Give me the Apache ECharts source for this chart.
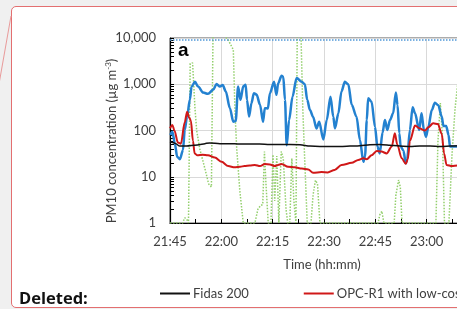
<!DOCTYPE html>
<html>
<head>
<meta charset="utf-8">
<script src="https://cdn.jsdelivr.net/npm/echarts@6/dist/echarts.min.js"></script>
<style>
html, body { margin: 0; padding: 0; background: #f0f0f0; overflow: hidden; }
#box { position: absolute; left: 11px; top: 6px; width: 800px; height: 300px; background: #fff;
       border: 1.3px solid #e36f70; border-radius: 5px; }
#chart { position: absolute; left: 0; top: 0; width: 700px; height: 309px; }
</style>
</head>
<body>
<div id="box"></div>
<div id="chart"></div>
<script>
// minutes after 21:45, PM10 in ug/m3
var fidas = [[0, 57], [1.7, 52], [2.9, 46], [4.3, 46], [7.2, 48], [10.2, 52], [11.6, 54], [14.6, 52], [17.5, 52],
    [20.4, 51], [23.3, 51], [26.2, 51], [29.1, 50], [32.1, 50], [35, 50], [38, 49], [40.9, 46], [43.8, 45],
    [46.7, 45], [49.6, 45], [52.6, 46], [55.5, 47], [58.4, 49], [61.3, 50], [64.3, 48], [67.2, 46], [70.1, 45],
    [73, 46], [76, 46], [78.9, 45], [81.8, 46], [84.7, 47], [90, 47]];

var lowCost = [[0, 112], [0.7, 132], [1.3, 100], [2.3, 55], [3.2, 52], [4.3, 150], [5.0, 255], [5.6, 190],
    [6.1, 165], [6.7, 60], [7.2, 32], [8.0, 29], [9.5, 30], [11.1, 29], [13.1, 26], [15.1, 21], [17.0, 17],
    [18.9, 16], [20.5, 16.5], [21.8, 17], [23.3, 17.5], [24.8, 18], [26.3, 17], [27.7, 18.8], [29.2, 18.5],
    [30.6, 17], [31.6, 18], [32.6, 18.8], [34.5, 16.4], [36.5, 16], [38.5, 15], [40.4, 14.4], [41.8, 12.2],
    [44.3, 12.6], [46.1, 12.4], [48.1, 14], [50.1, 17.9], [53.1, 20], [55.0, 23], [56.5, 25], [57.5, 24],
    [58.9, 29], [60.4, 36], [61.8, 35], [63.3, 32], [64.8, 45], [65.7, 87], [66.4, 50], [67.7, 25], [68.9, 19],
    [69.5, 24], [70.1, 60], [71.6, 128], [73, 110], [74.5, 100], [75.5, 118], [76.9, 143], [78.3, 138],
    [79.4, 85], [80.1, 32], [80.8, 18], [82.4, 17], [84, 17.5], [87, 17], [90, 17]];

var opcR1 = [[0.1, 80], [0.7, 94], [1.4, 53], [2.1, 27], [2.9, 24], [3.8, 38], [4.3, 103], [5.0, 200], [5.8, 460],
    [6.3, 890], [7.3, 1130], [8.2, 890], [9.7, 660], [11.1, 620], [12.6, 760], [13.6, 1010], [14.6, 890],
    [15.4, 960], [16.3, 700], [17.5, 303], [18.5, 155], [19.2, 160], [19.9, 890], [20.6, 460], [21.4, 900],
    [22.1, 980], [22.5, 460], [23.1, 200], [23.8, 390], [24.5, 640], [25.3, 600], [26.3, 360], [27.2, 155],
    [27.7, 303], [28.6, 300], [29.2, 640], [30.4, 1130], [31.1, 590], [31.6, 1050], [32.6, 1520], [33.1, 1450],
    [33.6, 460], [34.1, 48], [34.8, 168], [35.8, 540], [37.0, 1370], [38.5, 1130], [39.4, 1000], [40.1, 460],
    [40.9, 277], [41.8, 199], [42.8, 111], [43.6, 155], [44.8, 64], [45.8, 168], [46.9, 540], [47.7, 200],
    [48.2, 111], [49.2, 235], [50.1, 700], [51.1, 1130], [52.1, 1000], [53.1, 360], [54.5, 199], [55.5, 62],
    [56.5, 21], [57.0, 28], [57.5, 168], [57.9, 500], [58.9, 420], [59.9, 120], [60.6, 45], [61.3, 32],
    [62.1, 90], [62.8, 168], [63.5, 103], [64.3, 168], [65.2, 235], [66.0, 660], [66.5, 350], [67.0, 87],
    [67.4, 45], [68.2, 37], [68.9, 19.4], [69.3, 24], [70.1, 103], [70.9, 320], [71.6, 235], [72.8, 103],
    [73.5, 235], [74.2, 103], [74.8, 73], [75.5, 120], [76.5, 277], [77.4, 400], [78.4, 350], [79.4, 200],
    [79.9, 125], [80.7, 125], [81.4, 80], [81.8, 45], [83.9, 45], [86, 50], [88, 48], [90, 46]];

var opcN3 = [[0, 1], [3.7, 1], [4.3, 1.3], [4.9, 1.2], [5.4, 1], [5.9, 2800], [6.6, 2900], [7.3, 300], [7.8, 100],
    [8.7, 40], [10.2, 15], [11.3, 7], [12.1, 6], [12.6, 20000], [13.1, 20000], [17.0, 9100], [18.5, 5600],
    [19.0, 240], [19.5, 40], [20.4, 5], [21.4, 1], [24.8, 1], [25.7, 2], [26.5, 2.4], [27.1, 2.5], [27.6, 35],
    [28.0, 8], [28.7, 1], [29.5, 1], [30.1, 30], [30.6, 3], [31.2, 28], [31.8, 1], [32.5, 35], [33.1, 25],
    [33.9, 2], [34.4, 1], [35.0, 1], [35.6, 25], [36.2, 3], [36.8, 1], [37.2, 20000], [38.2, 20000],
    [38.8, 300], [39.4, 20], [40.1, 1], [41.2, 1], [41.8, 4], [42.5, 8.4], [43.1, 7], [43.8, 1], [60.8, 1],
    [61.3, 1.5], [61.9, 1.8], [62.5, 1], [65.5, 1], [66.0, 4], [66.8, 8.5], [67.3, 6], [67.8, 1], [77.7, 1],
    [78.3, 60], [79.0, 390], [79.6, 80], [80.2, 1], [81.5, 1], [82.4, 30], [83.3, 300], [84.5, 2000],
    [86, 100], [88, 1], [90, 1]];

var upperLimit = [[0, 9000], [90, 9000]];

var yMinorTicks = [2, 3, 4, 5, 6, 7, 8, 9, 20, 30, 40, 50, 60, 70, 80, 90,
    200, 300, 400, 500, 600, 700, 800, 900, 2000, 3000, 4000, 5000, 6000, 7000, 8000, 9000];

var startMin = 21 * 60 + 45;

var chart = echarts.init(document.getElementById('chart'));
var txt = '#404040';
var font = 'Lato';

var option = {
    animation: false,
    backgroundColor: 'transparent',
    grid: {
        left: 170, top: 38, width: 308, height: 185,
        show: true, borderColor: '#595959', borderWidth: 1
    },
    legend: {
        left: 155, top: 282,
        icon: 'rect',
        itemWidth: 30, itemHeight: 2, itemGap: 55,
        data: ['Fidas 200', 'OPC-R1 with low-cost heater'],
        lineStyle: { width: 1.5 },
        textStyle: { color: txt, fontFamily: font, fontSize: 13, padding: [0, 0, 0, -2] }
    },
    xAxis: {
        type: 'value', min: 0, max: 90, interval: 15,
        axisLine: { lineStyle: { color: '#000', width: 1.2 } },
        axisTick: { inside: true, length: 4, lineStyle: { color: '#000' } },
        minorTick: { show: true, splitNumber: 2, length: 4, lineStyle: { color: '#000' } },
        splitLine: { show: true, lineStyle: { color: '#d9d9d9', width: 1 } },
        axisLabel: {
            margin: 12, color: txt, fontFamily: font, fontSize: 13,
            formatter: function (v) {
                var t = startMin + v;
                var h = Math.floor(t / 60) % 24, m = t % 60;
                return h + ':' + (m < 10 ? '0' : '') + m;
            }
        }
    },
    yAxis: {
        type: 'log', logBase: 10, min: 1, max: 10000,
        axisLine: { show: true, lineStyle: { color: '#000', width: 1.2 } },
        axisTick: { inside: true, length: 4, lineStyle: { color: '#000' } },
        splitLine: { show: true, lineStyle: { color: '#d9d9d9', width: 1 } },
        axisLabel: {
            margin: 14, color: txt, fontFamily: font, fontSize: 13,
            formatter: function (v) { return Math.round(v).toLocaleString('en-US'); }
        }
    },
    graphic: [
        { type: 'line', shape: { x1: 11, y1: 16, x2: -1, y2: 84 }, style: { stroke: '#e89a9a', lineWidth: 1 } },
        {
            type: 'text', x: 112, y: 141, rotation: Math.PI / 2,
            style: {
                text: '{t|PM10 concentration (µg m}{s|-3}{t|)}',
                align: 'center', verticalAlign: 'middle',
                rich: {
                    t: { fontFamily: font, fontSize: 13, fill: txt, lineHeight: 16 },
                    s: { fontFamily: font, fontSize: 8, fill: txt, verticalAlign: 'top', lineHeight: 16, padding: [0, 0, 6, 0] }
                }
            }
        },
        {
            type: 'text', x: 178, y: 51,
            style: { text: 'a', font: 'bold 19px "Liberation Sans"', fill: '#000', verticalAlign: 'middle' }
        },
        {
            type: 'text', x: 322, y: 265,
            style: { text: 'Time (hh:mm)', font: '13px Lato', fill: txt, align: 'center', verticalAlign: 'middle' }
        },
        {
            type: 'text', x: 19, y: 299,
            style: { text: 'Deleted:', font: 'bold 16.5px "Open Sans"', fill: '#111', verticalAlign: 'middle' }
        }
    ],
    series: [
        {
            name: 'OPC-N3', type: 'line', data: opcN3, symbol: 'none',
            lineStyle: { color: '#93cf6c', width: 1.5, type: 'dotted' }, itemStyle: { color: '#93cf6c' }
        },
        {
            name: 'Upper limit', type: 'line', data: upperLimit, symbol: 'none',
            lineStyle: { color: '#4f97d8', width: 1.5, type: 'dotted' }, itemStyle: { color: '#4f97d8' }
        },
        {
            name: 'OPC-R1', type: 'line', data: opcR1, symbol: 'none', smooth: 0.3, smoothMonotone: 'x',
            lineStyle: { color: '#2381d0', width: 2.5 }, itemStyle: { color: '#2381d0' }
        },
        {
            name: 'OPC-R1 with low-cost heater', type: 'line', data: lowCost, symbol: 'none', smooth: 0.3, smoothMonotone: 'x',
            lineStyle: { color: '#d01818', width: 2 }, itemStyle: { color: '#d01818' }
        },
        {
            name: 'Fidas 200', type: 'line', data: fidas, symbol: 'none', smooth: 0.3,
            lineStyle: { color: '#111', width: 1.5 }, itemStyle: { color: '#111' }
        },
        {
            name: 'minor', type: 'custom', silent: true,
            data: yMinorTicks.map(function (v) { return [0, v]; }),
            renderItem: function (params, api) {
                var p = api.coord([0, api.value(1)]);
                return {
                    type: 'line',
                    shape: { x1: p[0], y1: Math.round(p[1]) + 0.5, x2: p[0] + 4, y2: Math.round(p[1]) + 0.5 },
                    style: { stroke: '#000', lineWidth: 1 }
                };
            }
        }
    ]
};
chart.setOption(option);
</script>
</body>
</html>
